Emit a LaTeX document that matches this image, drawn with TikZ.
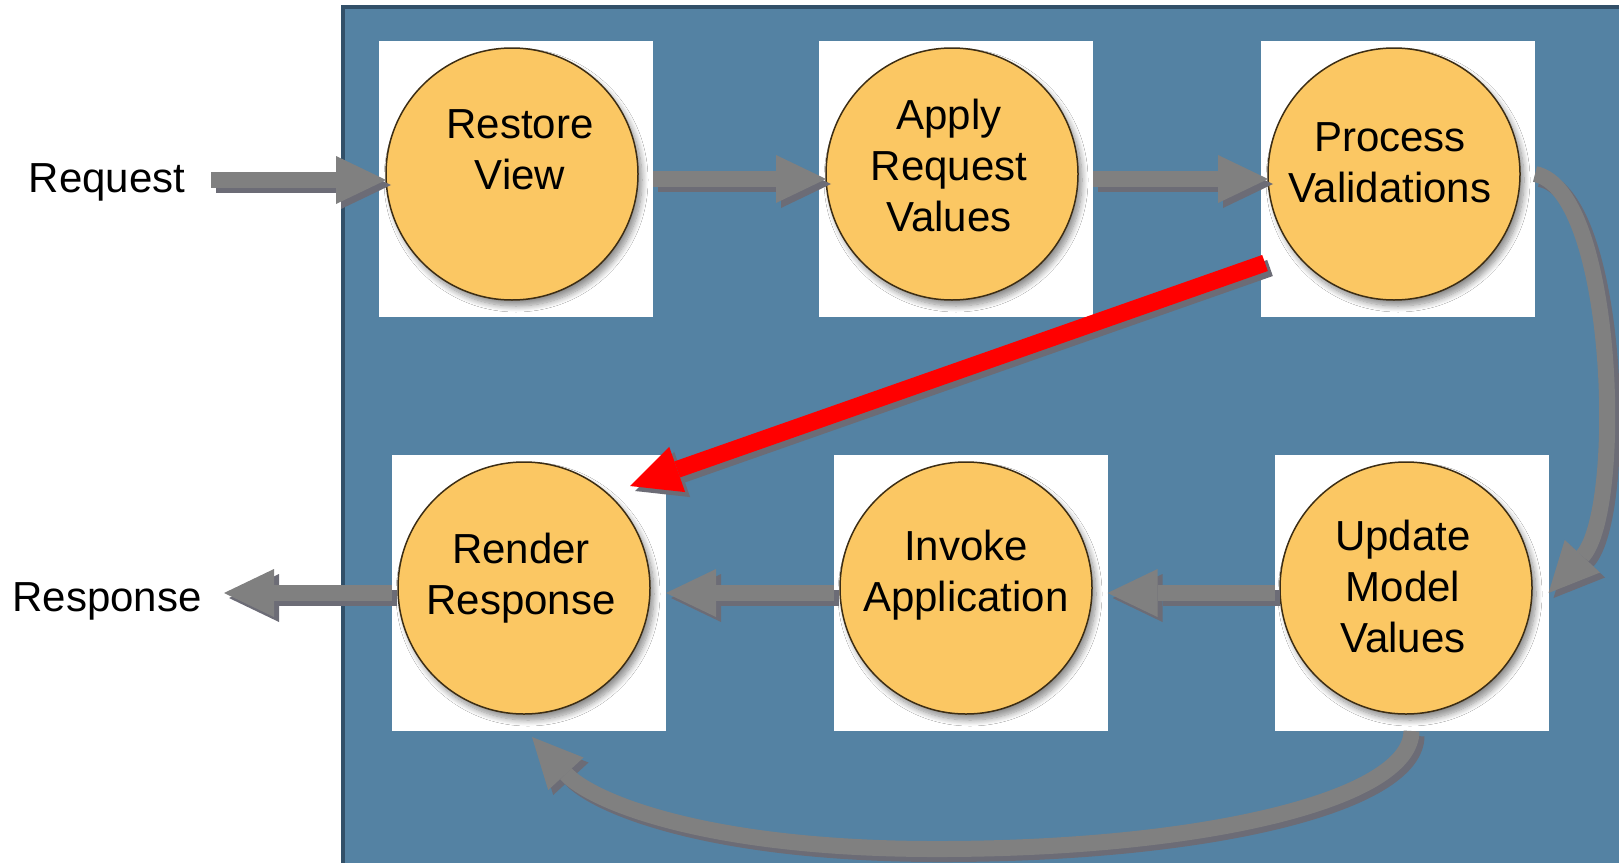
\documentclass[tikz,border=0pt]{standalone}
\usepackage{fontspec}
\setmainfont{Liberation Sans}
\usetikzlibrary{arrows.meta,shadows.blur,calc}
\definecolor{panelblue}{RGB}{84,130,163}
\definecolor{paneledge}{RGB}{50,80,105}
\definecolor{ballfill}{RGB}{251,199,99}
\definecolor{balledge}{RGB}{60,45,20}
\definecolor{arrowgray}{RGB}{128,128,128}
\definecolor{arrowshade}{RGB}{108,108,118}
\definecolor{redarrow}{RGB}{255,0,0}
\tikzset{
  whitebox/.style={rectangle, fill=white, minimum width=274pt, minimum height=276pt, inner sep=0pt, outer sep=0pt},
  ball/.style={circle, fill=ballfill, draw=balledge, line width=1.5pt, minimum size=252pt, inner sep=0pt, outer sep=0pt,
    blur shadow={shadow xshift=4pt, shadow yshift=-6pt, shadow blur radius=6pt, shadow blur steps=10, shadow opacity=45}},
  balltext/.style={align=center, font=\fontsize{42}{51}\selectfont, text=black, inner sep=0pt},
  sidetext/.style={font=\fontsize{42}{51}\selectfont, anchor=base, inner sep=0pt},
  tipshape/.style={-{Triangle[length=50pt,width=48pt,line width=0pt]}},
  garrow/.style={draw=arrowgray, line width=16pt, tipshape},
  gshadow/.style={draw=arrowshade, line width=16pt, tipshape, transform canvas={shift={(5,5)}}},
  rarrow/.style={draw=redarrow, line width=17pt, tipshape},
  rshadow/.style={draw=arrowshade, line width=17pt, tipshape, transform canvas={shift={(5,5)}}},
}
\newcommand\grayconn[1]{\path[gshadow] #1; \path[garrow] #1;}
\begin{document}
\begin{tikzpicture}[x=1pt,y=-1pt]
\useasboundingbox (0,0) rectangle (1619,862);
% panel
\path[fill=panelblue, draw=paneledge, line width=4pt] (343,7) rectangle (1640,880);
% boxes
\node[whitebox] (b1) at (516,179) {};
\node[whitebox] (b2) at (956,179) {};
\node[whitebox] (b3) at (1398,179) {};
\node[whitebox] (b4) at (529,593) {};
\node[whitebox] (b5) at (970.5,593) {};
\node[whitebox] (b6) at (1411.5,593) {};
% balls
\node[ball] (c1) at (512,174) {};
\node[ball] (c2) at (952,174) {};
\node[ball] (c3) at (1394,174) {};
\node[ball] (c4) at (524,588) {};
\node[ball] (c5) at (966,588) {};
\node[ball] (c6) at (1406,588) {};
% texts
\node[balltext] (t1) at (520,150) {Restore\\View};
\node[balltext] (t2) at (949,165) {Apply\\Request\\Values};
\node[balltext] (t3) at (1390,163) {Process\\Validations};
\node[balltext] (t4) at (521,578) {Render\\Response};
\node[balltext] (t5) at (966,575) {Invoke\\Application};
\node[balltext] (t6) at (1403,586) {Update\\Model\\Values};
\node[sidetext] (req) at (107,192) {Request};
\node[sidetext] (resp) at (107,611) {Response};
% free ends
\coordinate (reqstart) at (211,180);
\coordinate (resptip) at (224,593);
\coordinate (bottommid) at (929,849);
\coordinate (backtip) at (532,737);
\coordinate (rstart) at (1265,263);
\coordinate (rtip) at (630,486);
% gray connectors
\grayconn{(reqstart) -- (reqstart -| c1.west)}
\grayconn{(b1.east) -- (b1.east -| c2.west)}
\grayconn{(b2.east) -- (b2.east -| c3.west)}
\grayconn{(b6.west) -- (b5.east)}
\grayconn{(b5.west) -- (b4.east)}
\grayconn{(b4.west) -- (resptip)}
\grayconn{(b3.east |- c3.east) .. controls (1615,190) and (1625,510) .. (b6.east)}
\grayconn{(b6.south) .. controls (1411,800) and (1200,850) .. (bottommid) .. controls (700,848) and (590,800) .. (backtip)}
% red connector
\path[rshadow] (rstart) -- (rtip);
\path[rarrow] (rstart) -- (rtip);
\end{tikzpicture}
\end{document}
